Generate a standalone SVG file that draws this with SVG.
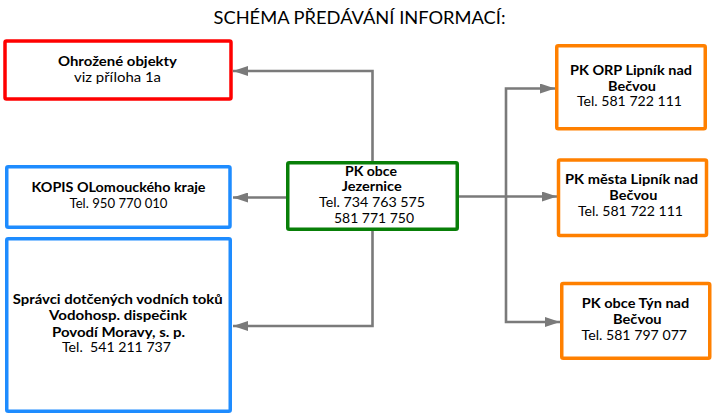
<svg xmlns="http://www.w3.org/2000/svg" width="718" height="416" viewBox="0 0 718 416">
<style>
text{font-family:Lato,"Liberation Sans",sans-serif;font-size:13px;fill:#000;text-anchor:middle}
.b{font-weight:bold}
.t{font-size:18px}
.box{fill:#fff;stroke-width:3.5}
.red{stroke:#FF0000}
.blue{stroke:#1E8CFF}
.green{stroke:#087F08}
.orange{stroke:#FF8000}
.conn{fill:none;stroke:#7A7A7A;stroke-width:2.6}
</style>
<defs>
<marker id="ah" markerUnits="userSpaceOnUse" markerWidth="15" markerHeight="10" refX="15" refY="5" orient="auto">
<path d="M0,0 L15,5 L0,10 z" fill="#7A7A7A"/>
</marker>
</defs>
<rect width="718" height="416" fill="#fff"/>
<text class="t" x="359.5" y="24" textLength="292" lengthAdjust="spacingAndGlyphs">SCHÉMA PŘEDÁVÁNÍ INFORMACÍ:</text>

<g id="connectors">
<path class="conn" d="M372.5,161 V71 H233" marker-end="url(#ah)"/>
<path class="conn" d="M286,197.5 H233" marker-end="url(#ah)"/>
<path class="conn" d="M372.5,231 V326 H233" marker-end="url(#ah)"/>
<path class="conn" d="M459,196.5 H557" marker-end="url(#ah)"/>
<path class="conn" d="M506,196.5 V88.5 H555" marker-end="url(#ah)"/>
<path class="conn" d="M506,196.5 V322 H560" marker-end="url(#ah)"/>
</g>

<g id="ohrozene">
<rect class="box red" x="5" y="41" width="226" height="58" rx="1.5"/>
<text class="b" x="117.5" y="66" textLength="119" lengthAdjust="spacingAndGlyphs">Ohrožené objekty</text>
<text x="117.5" y="82" textLength="87" lengthAdjust="spacingAndGlyphs">viz příloha 1a</text>
</g>

<g id="kopis">
<rect class="box blue" x="6.75" y="166.75" width="223.25" height="60.5" rx="1.5"/>
<text class="b" x="118.5" y="192.3" textLength="174" lengthAdjust="spacingAndGlyphs">KOPIS OLomouckého kraje</text>
<text x="118.5" y="208" textLength="98" lengthAdjust="spacingAndGlyphs">Tel. 950 770 010</text>
</g>

<g id="spravci">
<rect class="box blue" x="6.75" y="238.75" width="223.5" height="172.5" rx="1.5"/>
<text class="b" x="117.7" y="304" textLength="210" lengthAdjust="spacingAndGlyphs">Správci dotčených vodních toků</text>
<text class="b" x="118" y="320" textLength="138" lengthAdjust="spacingAndGlyphs">Vodohosp. dispečink</text>
<text class="b" x="118.5" y="336.7" textLength="133" lengthAdjust="spacingAndGlyphs">Povodí Moravy, s. p.</text>
<text x="116.5" y="352.4" textLength="109" lengthAdjust="spacingAndGlyphs" xml:space="preserve">Tel.  541 211 737</text>
</g>

<g id="pk-jezernice">
<rect class="box green" x="287.75" y="162.75" width="169.5" height="66.5" rx="1.5"/>
<text class="b" x="371" y="175.7" textLength="52" lengthAdjust="spacingAndGlyphs">PK obce</text>
<text class="b" x="371.7" y="191.4" textLength="60" lengthAdjust="spacingAndGlyphs">Jezernice</text>
<text x="372" y="207.1" textLength="106" lengthAdjust="spacingAndGlyphs">Tel. 734 763 575</text>
<text x="374" y="222.8" textLength="80" lengthAdjust="spacingAndGlyphs">581 771 750</text>
</g>

<g id="pk-orp">
<rect class="box orange" x="556.75" y="45.75" width="148.5" height="83" rx="1.5"/>
<text class="b" x="631" y="75" textLength="122" lengthAdjust="spacingAndGlyphs">PK ORP Lipník nad</text>
<text class="b" x="632" y="90.7" textLength="48" lengthAdjust="spacingAndGlyphs">Bečvou</text>
<text x="629.5" y="106.4" textLength="105" lengthAdjust="spacingAndGlyphs">Tel. 581 722 111</text>
</g>

<g id="pk-mesta">
<rect class="box orange" x="558.5" y="160" width="148" height="75.5" rx="1.5"/>
<text class="b" x="631.5" y="184.3" textLength="133" lengthAdjust="spacingAndGlyphs">PK města Lipník nad</text>
<text class="b" x="633.3" y="200" textLength="48" lengthAdjust="spacingAndGlyphs">Bečvou</text>
<text x="630.5" y="215.7" textLength="105" lengthAdjust="spacingAndGlyphs">Tel. 581 722 111</text>
</g>

<g id="pk-tyn">
<rect class="box orange" x="561.75" y="283.5" width="148" height="74.75" rx="1.5"/>
<text class="b" x="635.5" y="308.3" textLength="107.5" lengthAdjust="spacingAndGlyphs">PK obce Týn nad</text>
<text class="b" x="637.3" y="324.3" textLength="48.5" lengthAdjust="spacingAndGlyphs">Bečvou</text>
<text x="634.3" y="340" textLength="105.5" lengthAdjust="spacingAndGlyphs">Tel. 581 797 077</text>
</g>
</svg>
